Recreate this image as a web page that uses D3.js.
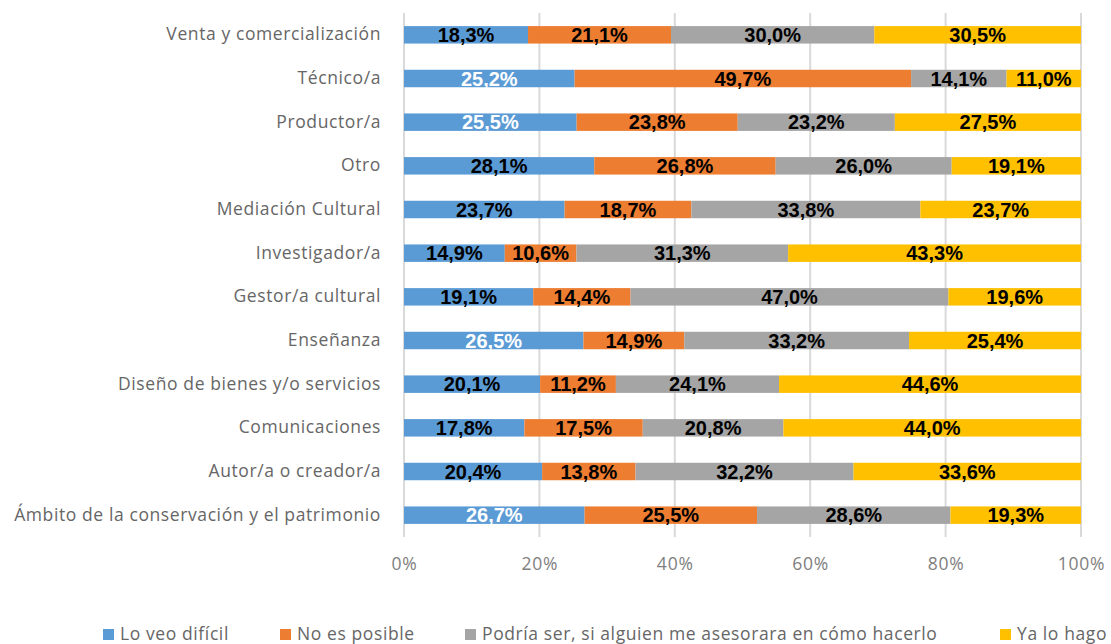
<!DOCTYPE html>
<html>
<head>
<meta charset="utf-8">
<script src="https://cdn.jsdelivr.net/npm/d3@7"></script>
<style>
    body { margin: 0; background: #fff; }
    #chart { width: 1111px; height: 644px; }
</style>
</head>
<body>
<div id="chart"></div>
<script>
// categories, top to bottom as in the picture
const categories = [
    "Venta y comercialización",
    "Técnico/a",
    "Productor/a",
    "Otro",
    "Mediación Cultural",
    "Investigador/a",
    "Gestor/a cultural",
    "Enseñanza",
    "Diseño de bienes y/o servicios",
    "Comunicaciones",
    "Autor/a o creador/a",
    "Ámbito de la conservación y el patrimonio"
];

const seriesNames = [
    "Lo veo difícil",
    "No es posible",
    "Podría ser, si alguien me asesorara en cómo hacerlo",
    "Ya lo hago"
];

const loVeoDificil = [18.3, 25.2, 25.5, 28.1, 23.7, 14.9, 19.1, 26.5, 20.1, 17.8, 20.4, 26.7];
const noEsPosible  = [21.1, 49.7, 23.8, 26.8, 18.7, 10.6, 14.4, 14.9, 11.2, 17.5, 13.8, 25.5];
const podriaSer    = [30.0, 14.1, 23.2, 26.0, 33.8, 31.3, 47.0, 33.2, 24.1, 20.8, 32.2, 28.6];
const yaLoHago     = [30.5, 11.0, 27.5, 19.1, 23.7, 43.3, 19.6, 25.4, 44.6, 44.0, 33.6, 19.3];

// rows whose first label is printed in white in the original
const whiteFirstLabel = ["Técnico/a", "Productor/a", "Enseñanza", "Ámbito de la conservación y el patrimonio"];

const xTicks = [0, 0.2, 0.4, 0.6, 0.8, 1];

const colors = ["#5B9BD5", "#ED7D31", "#A5A5A5", "#FFC000"];

const width = 1111;
const height = 644;
const margin = {top: 13, right: 30, bottom: 107, left: 404};
const labelFont = "'Open Sans', 'DejaVu Sans', sans-serif";

const rows = categories.map((c, i) => ({
    category: c,
    0: loVeoDificil[i],
    1: noEsPosible[i],
    2: podriaSer[i],
    3: yaLoHago[i]
}));

const stacked = d3.stack()
    .keys([0, 1, 2, 3])
    .offset(d3.stackOffsetExpand)(rows);

const x = d3.scaleLinear()
    .domain([0, 1])
    .range([margin.left, width - margin.right]);

const y = d3.scaleBand()
    .domain(categories)
    .range([margin.top, height - margin.bottom])
    .paddingInner(0.6)
    .paddingOuter(0.3);

const esLocale = d3.formatLocale({decimal: ",", thousands: ".", grouping: [3], currency: ["", "€"]});
const fmtVal = v => esLocale.format(".1f")(v) + "%";

const svg = d3.select("#chart").append("svg")
    .attr("width", width)
    .attr("height", height)
    .style("font-family", labelFont);

// vertical gridlines
svg.append("g")
    .selectAll("line")
    .data(xTicks)
    .join("line")
    .attr("x1", d => x(d))
    .attr("x2", d => x(d))
    .attr("y1", margin.top)
    .attr("y2", height - margin.bottom)
    .attr("stroke", "#D9D9D9")
    .attr("stroke-width", 2);

// bars
const layer = svg.append("g")
    .selectAll("g")
    .data(stacked)
    .join("g")
    .attr("fill", (d, i) => colors[i]);

layer.selectAll("rect")
    .data(d => d)
    .join("rect")
    .attr("x", d => x(d[0]))
    .attr("y", d => y(d.data.category))
    .attr("width", d => x(d[1]) - x(d[0]))
    .attr("height", y.bandwidth());

// data labels
layer.selectAll("text")
    .data((d, i) => d.map(p => ({p: p, key: i})))
    .join("text")
    .attr("x", d => (x(d.p[0]) + x(d.p[1])) / 2)
    .attr("y", d => y(d.p.data.category) + y.bandwidth() / 2)
    .attr("dy", "0.36em")
    .attr("text-anchor", "middle")
    .style("font-family", "'Liberation Sans', Arial, sans-serif")
    .style("font-size", "20px")
    .style("font-weight", "bold")
    .attr("fill", d => (d.key === 0 && whiteFirstLabel.includes(d.p.data.category)) ? "#FFFFFF" : "#000000")
    .text(d => fmtVal(d.p.data[d.key]));

// category axis
const yAxis = svg.append("g")
    .attr("transform", `translate(${margin.left}, 0)`)
    .call(d3.axisLeft(y).tickSize(0).tickPadding(23));
yAxis.select(".domain").remove();
yAxis.selectAll("text")
    .style("font-size", "17.5px")
    .style("letter-spacing", "0.6px")
    .style("font-family", labelFont)
    .attr("fill", "#666666");

// value axis
const xAxis = svg.append("g")
    .attr("transform", `translate(0, ${height - margin.bottom})`)
    .call(d3.axisBottom(x).tickValues(xTicks).tickSize(0).tickPadding(21).tickFormat(d3.format(".0%")));
xAxis.select(".domain").remove();
xAxis.selectAll("text")
    .style("font-size", "17.5px")
    .style("letter-spacing", "0.8px")
    .style("font-family", labelFont)
    .attr("fill", "#808080");

// legend
const legendX = [103, 280, 465, 1000];
const legend = svg.append("g")
    .selectAll("g")
    .data(seriesNames)
    .join("g")
    .attr("transform", (d, i) => `translate(${legendX[i]}, 628)`);

legend.append("rect")
    .attr("width", 11)
    .attr("height", 11)
    .attr("y", 1)
    .attr("fill", (d, i) => colors[i]);

legend.append("text")
    .attr("x", 17)
    .attr("y", 6)
    .attr("dy", "0.36em")
    .style("font-size", "17.5px")
    .style("letter-spacing", "0.6px")
    .attr("fill", "#666666")
    .text(d => d);
</script>
</body>
</html>
